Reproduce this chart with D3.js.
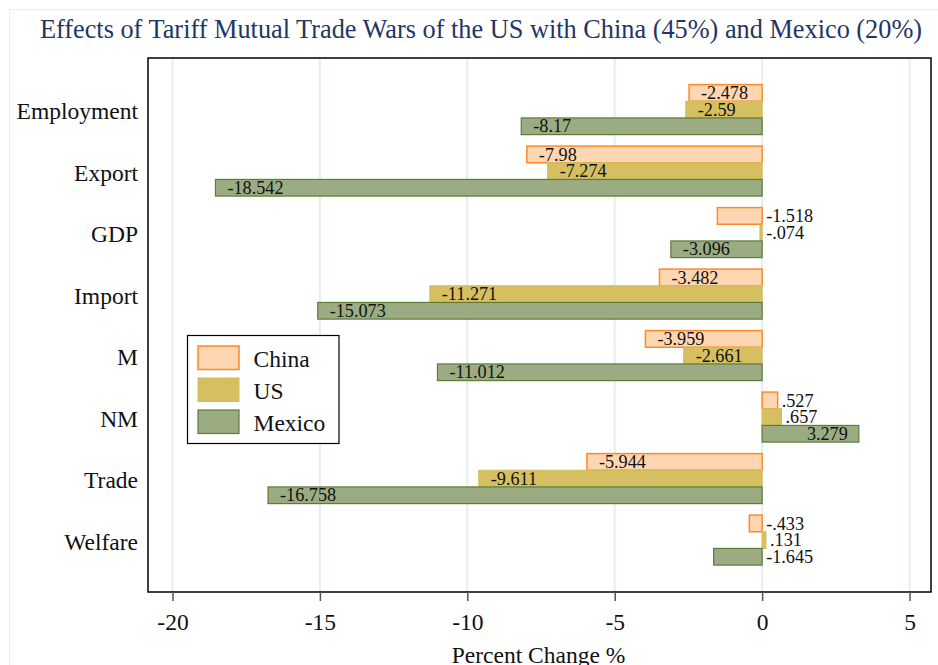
<!DOCTYPE html>
<html>
<head>
<meta charset="utf-8">
<script src="https://cdn.jsdelivr.net/npm/d3@7/dist/d3.min.js"></script>
<style>
  html, body { margin: 0; padding: 0; background: #fff; }
  svg { display: block; }
  text { font-family: "Liberation Serif", "Times New Roman", serif; }
</style>
</head>
<body>
<svg id="chart" width="938" height="665"></svg>
<script>
const categories = ["Employment", "Export", "GDP", "Import", "M", "NM", "Trade", "Welfare"];
const seriesNames = ["China", "US", "Mexico"];
const chinaValues  = [-2.478, -7.98, -1.518, -3.482, -3.959, 0.527, -5.944, -0.433];
const usValues     = [-2.59, -7.274, -0.074, -11.271, -2.661, 0.657, -9.611, 0.131];
const mexicoValues = [-8.17, -18.542, -3.096, -15.073, -11.012, 3.279, -16.758, -1.645];
const xTicks = [-20, -15, -10, -5, 0, 5];
const titleText = "Effects of Tariff Mutual Trade Wars of the US with China (45%) and Mexico (20%)";
const xAxisTitle = "Percent Change %";

const seriesValues = [chinaValues, usValues, mexicoValues];
const styles = {
  China:  { fill: "#fed6b2", stroke: "#fb8b26", sw: 1.5 },
  US:     { fill: "#d6bf61", stroke: "#d3bc5d", sw: 1 },
  Mexico: { fill: "#9bac82", stroke: "#5e7b3c", sw: 1.2 }
};

const svg = d3.select("#chart");
const plot = { left: 148, right: 929, top: 58, bottom: 592 };
const serif = "\"Liberation Serif\", \"Times New Roman\", serif";

// outer frame
svg.append("rect").attr("x", 9.5).attr("y", 9.5).attr("width", 1000).attr("height", 1000)
  .attr("fill", "none").attr("stroke", "#e8eef2").attr("stroke-width", 1);

const x = d3.scaleLinear().domain([-20.83, 5.66]).range([plot.left, plot.right]);
const y = d3.scaleBand().domain(categories)
  .range([78.85, 570.85]).paddingInner(0.187).paddingOuter(0.0935);
const ySub = d3.scaleBand().domain(seriesNames).range([0, y.bandwidth()]);

// gridlines
svg.append("g").selectAll("line").data(xTicks).join("line")
  .attr("x1", d => x(d)).attr("x2", d => x(d))
  .attr("y1", plot.top).attr("y2", plot.bottom)
  .attr("stroke", "#e4edf1").attr("stroke-width", 2);

// bars
const fmt = v => String(v).replace(/^(-?)0\./, "$1.");
const rows = [];
categories.forEach((c, i) => {
  seriesNames.forEach((s, j) => rows.push({ cat: c, series: s, value: seriesValues[j][i] }));
});

const barG = svg.append("g");
barG.selectAll("rect").data(rows).join("rect")
  .attr("x", d => Math.min(x(0), x(d.value)))
  .attr("width", d => Math.abs(x(d.value) - x(0)))
  .attr("y", d => y(d.cat) + ySub(d.series))
  .attr("height", ySub.bandwidth())
  .attr("fill", d => styles[d.series].fill)
  .attr("stroke", d => styles[d.series].stroke)
  .attr("stroke-width", d => styles[d.series].sw);

// bar labels
const labG = svg.append("g");
rows.forEach(d => {
  const t = labG.append("text")
    .attr("font-size", 18.2).attr("fill", "#111").attr("font-family", serif)
    .attr("y", y(d.cat) + ySub(d.series) + ySub.bandwidth() / 2 + 6.2)
    .text(fmt(d.value));
  const tw = t.node().getComputedTextLength();
  const len = Math.abs(x(d.value) - x(0));
  const fits = len >= tw + 16;
  if (d.value < 0) {
    if (fits) t.attr("x", x(d.value) + 12).attr("text-anchor", "start");
    else t.attr("x", x(0) + 4).attr("text-anchor", "start");
  } else {
    if (fits) t.attr("x", x(d.value) - 11).attr("text-anchor", "end");
    else t.attr("x", x(d.value) + 4).attr("text-anchor", "start");
  }
});

// plot border
svg.append("rect").attr("x", plot.left).attr("y", plot.top)
  .attr("width", plot.right - plot.left + 2).attr("height", plot.bottom - plot.top)
  .attr("fill", "none").attr("stroke", "#000").attr("stroke-width", 1.5);

// x axis
const xAxis = d3.axisBottom(x).tickValues(xTicks).tickSize(9).tickPadding(12)
  .tickFormat(d => String(d));
const ax = svg.append("g").attr("transform", `translate(0,${plot.bottom})`).call(xAxis);
ax.attr("font-family", serif);
ax.select(".domain").remove();
ax.selectAll(".tick line").attr("stroke", "#555").attr("stroke-width", 1.5);
ax.selectAll(".tick text").attr("font-size", 23.5).attr("fill", "#111")
  .attr("font-family", serif);

// category labels
svg.append("g").selectAll("text").data(categories).join("text")
  .attr("x", 138).attr("y", d => y(d) + y.bandwidth() / 2 + 9.5)
  .attr("text-anchor", "end").attr("font-size", 23.5).attr("fill", "#111")
  .attr("font-family", serif)
  .text(d => d);

// axis title
svg.append("text").attr("x", (plot.left + plot.right) / 2).attr("y", 662.5)
  .attr("text-anchor", "middle").attr("font-size", 23.5).attr("fill", "#111")
  .attr("font-family", serif)
  .text(xAxisTitle);

// title
svg.append("text").attr("x", 481).attr("y", 37.5)
  .attr("text-anchor", "middle").attr("font-size", 26.3).attr("fill", "#1f3764")
  .attr("font-family", serif)
  .text(titleText);

// legend
const lg = svg.append("g");
lg.append("rect").attr("x", 187.5).attr("y", 335.5).attr("width", 151.5).attr("height", 108)
  .attr("fill", "#fff").attr("stroke", "#000").attr("stroke-width", 1.2);
const swTop = [346, 378, 410];
seriesNames.forEach((s, i) => {
  lg.append("rect").attr("x", 198).attr("y", swTop[i]).attr("width", 41).attr("height", 23.5)
    .attr("fill", styles[s].fill).attr("stroke", styles[s].stroke).attr("stroke-width", styles[s].sw);
  lg.append("text").attr("x", 253.5).attr("y", swTop[i] + 11.75 + 9.2)
    .attr("font-size", 23.5).attr("fill", "#111").attr("font-family", serif).text(s);
});
</script>
</body>
</html>
